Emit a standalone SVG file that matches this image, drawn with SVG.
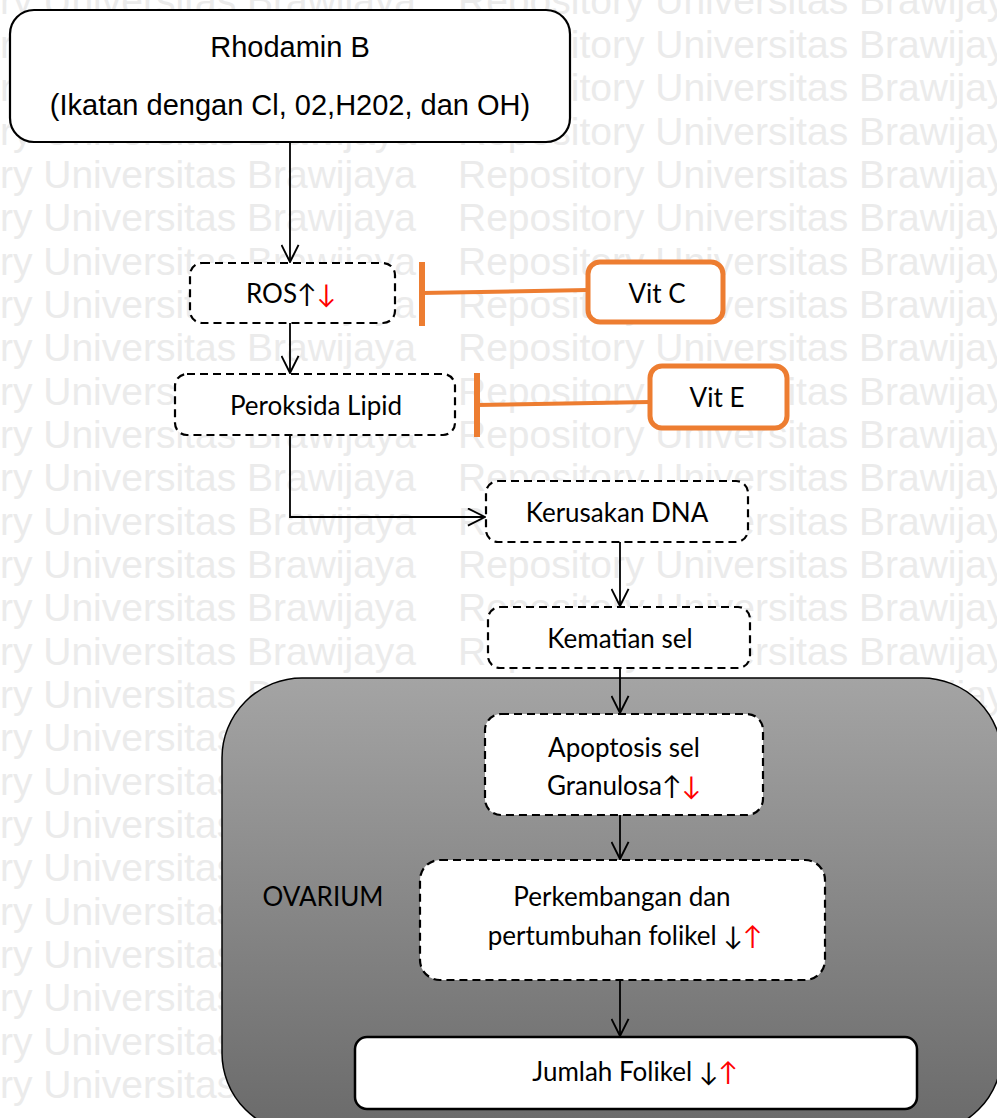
<svg xmlns="http://www.w3.org/2000/svg" width="997" height="1118" viewBox="0 0 997 1118">
<defs>
<style>
.wm{font-family:"Liberation Sans",Arial,sans-serif;font-size:39px;fill:#ebebeb}
.box{fill:#fff;stroke:#000;stroke-width:2.2}
.dash{fill:#fff;stroke:#000;stroke-width:2.2;stroke-dasharray:8 5}
.vit{fill:#fff;stroke:#ED7D31;stroke-width:5}
.inh{stroke:#ED7D31;fill:none}
.t{font-family:Lato,"Noto Sans",sans-serif;font-size:26px;fill:#000;text-anchor:middle}
.ta{font-family:"Liberation Sans",Arial,sans-serif;font-size:29px;fill:#000;text-anchor:middle}
.red{fill:#ff0000}
.con{fill:none;stroke:#000;stroke-width:1.8}
</style>
<marker id="arr" viewBox="0 0 20 20" refX="19" refY="10" markerWidth="19" markerHeight="19" markerUnits="userSpaceOnUse" orient="auto">
<path d="M1,1 L19,10 L1,19" fill="none" stroke="#000" stroke-width="2"/>
</marker>
<linearGradient id="ovg" x1="0" y1="0" x2="0" y2="1">
<stop offset="0" stop-color="#a4a4a4"/>
<stop offset="1" stop-color="#6a6a6a"/>
</linearGradient>
</defs>
<rect width="997" height="1118" fill="#fff"/>
<g id="watermark">
<text class="wm" x="-154" y="14">Repository Universitas Brawijaya</text><text class="wm" x="458" y="14">Repository Universitas Brawijaya</text>
<text class="wm" x="-154" y="58">Repository Universitas Brawijaya</text><text class="wm" x="458" y="58">Repository Universitas Brawijaya</text>
<text class="wm" x="-154" y="101">Repository Universitas Brawijaya</text><text class="wm" x="458" y="101">Repository Universitas Brawijaya</text>
<text class="wm" x="-154" y="145">Repository Universitas Brawijaya</text><text class="wm" x="458" y="145">Repository Universitas Brawijaya</text>
<text class="wm" x="-154" y="188">Repository Universitas Brawijaya</text><text class="wm" x="458" y="188">Repository Universitas Brawijaya</text>
<text class="wm" x="-154" y="231">Repository Universitas Brawijaya</text><text class="wm" x="458" y="231">Repository Universitas Brawijaya</text>
<text class="wm" x="-154" y="275">Repository Universitas Brawijaya</text><text class="wm" x="458" y="275">Repository Universitas Brawijaya</text>
<text class="wm" x="-154" y="318">Repository Universitas Brawijaya</text><text class="wm" x="458" y="318">Repository Universitas Brawijaya</text>
<text class="wm" x="-154" y="361">Repository Universitas Brawijaya</text><text class="wm" x="458" y="361">Repository Universitas Brawijaya</text>
<text class="wm" x="-154" y="405">Repository Universitas Brawijaya</text><text class="wm" x="458" y="405">Repository Universitas Brawijaya</text>
<text class="wm" x="-154" y="448">Repository Universitas Brawijaya</text><text class="wm" x="458" y="448">Repository Universitas Brawijaya</text>
<text class="wm" x="-154" y="491">Repository Universitas Brawijaya</text><text class="wm" x="458" y="491">Repository Universitas Brawijaya</text>
<text class="wm" x="-154" y="535">Repository Universitas Brawijaya</text><text class="wm" x="458" y="535">Repository Universitas Brawijaya</text>
<text class="wm" x="-154" y="578">Repository Universitas Brawijaya</text><text class="wm" x="458" y="578">Repository Universitas Brawijaya</text>
<text class="wm" x="-154" y="621">Repository Universitas Brawijaya</text><text class="wm" x="458" y="621">Repository Universitas Brawijaya</text>
<text class="wm" x="-154" y="665">Repository Universitas Brawijaya</text><text class="wm" x="458" y="665">Repository Universitas Brawijaya</text>
<text class="wm" x="-154" y="708">Repository Universitas Brawijaya</text><text class="wm" x="458" y="708">Repository Universitas Brawijaya</text>
<text class="wm" x="-154" y="751">Repository Universitas Brawijaya</text>
<text class="wm" x="-154" y="795">Repository Universitas Brawijaya</text>
<text class="wm" x="-154" y="838">Repository Universitas Brawijaya</text>
<text class="wm" x="-154" y="881">Repository Universitas Brawijaya</text>
<text class="wm" x="-154" y="925">Repository Universitas Brawijaya</text>
<text class="wm" x="-154" y="968">Repository Universitas Brawijaya</text>
<text class="wm" x="-154" y="1011">Repository Universitas Brawijaya</text>
<text class="wm" x="-154" y="1055">Repository Universitas Brawijaya</text>
<text class="wm" x="-154" y="1098">Repository Universitas Brawijaya</text>
</g>
<g id="ovarium">
<rect x="222" y="678" width="780" height="455" rx="80" ry="80" fill="url(#ovg)" stroke="#000" stroke-width="1.5"/>
<text class="t" x="323" y="906">OVARIUM</text>
</g>
<g id="connectors">
<path class="con" d="M290,142 V262" marker-end="url(#arr)"/>
<path class="con" d="M290,323 V373" marker-end="url(#arr)"/>
<path class="con" d="M290,436 V517 H485" marker-end="url(#arr)"/>
<path class="con" d="M620,542 V606" marker-end="url(#arr)"/>
<path class="con" d="M620,668 V713" marker-end="url(#arr)"/>
<path class="con" d="M620,815 V859" marker-end="url(#arr)"/>
<path class="con" d="M620,980 V1036" marker-end="url(#arr)"/>
<path class="inh" stroke-width="4" d="M588,290 L422,293"/>
<path class="inh" stroke-width="6" d="M422,262 V326"/>
<path class="inh" stroke-width="4" d="M650,402 L477,405"/>
<path class="inh" stroke-width="6" d="M477,373 V437"/>
</g>
<g id="rhodamin">
<rect class="box" x="10" y="10" width="560" height="132" rx="24"/>
<text class="ta" x="290" y="57">Rhodamin B</text>
<text class="ta" x="290" y="115">(Ikatan dengan Cl, 02,H202, dan OH)</text>
</g>
<g id="ros">
<rect class="dash" x="190" y="263" width="205" height="60" rx="12"/>
<text class="t" x="291" y="303">ROS↑<tspan class="red">↓</tspan></text>
</g>
<g id="vitc">
<rect class="vit" x="588" y="262" width="135" height="60" rx="12"/>
<text class="t" x="657" y="303">Vit C</text>
</g>
<g id="peroksida">
<rect class="dash" x="175" y="374" width="280" height="61" rx="12"/>
<text class="t" x="316" y="415">Peroksida Lipid</text>
</g>
<g id="vite">
<rect class="vit" x="650" y="366" width="137" height="62" rx="12"/>
<text class="t" x="717" y="407">Vit E</text>
</g>
<g id="dna">
<rect class="dash" x="486" y="481" width="262" height="61" rx="12"/>
<text class="t" x="617" y="522">Kerusakan DNA</text>
</g>
<g id="kematian">
<rect class="dash" x="488" y="607" width="262" height="61" rx="12"/>
<text class="t" x="620" y="648">Kematian sel</text>
</g>
<g id="apoptosis">
<rect class="dash" x="485" y="714" width="278" height="101" rx="16"/>
<text class="t" x="624" y="757">Apoptosis sel</text>
<text class="t" x="624" y="795">Granulosa↑<tspan class="red">↓</tspan></text>
</g>
<g id="perkembangan">
<rect class="dash" x="420" y="860" width="405" height="120" rx="20"/>
<text class="t" x="622" y="906">Perkembangan dan</text>
<text class="t" x="625" y="945">pertumbuhan folikel ↓<tspan class="red">↑</tspan></text>
</g>
<g id="jumlah">
<rect x="355" y="1037" width="562" height="72" rx="12" fill="#fff" stroke="#000" stroke-width="2.5"/>
<text class="t" x="635" y="1081">Jumlah Folikel ↓<tspan class="red">↑</tspan></text>
</g>
</svg>
